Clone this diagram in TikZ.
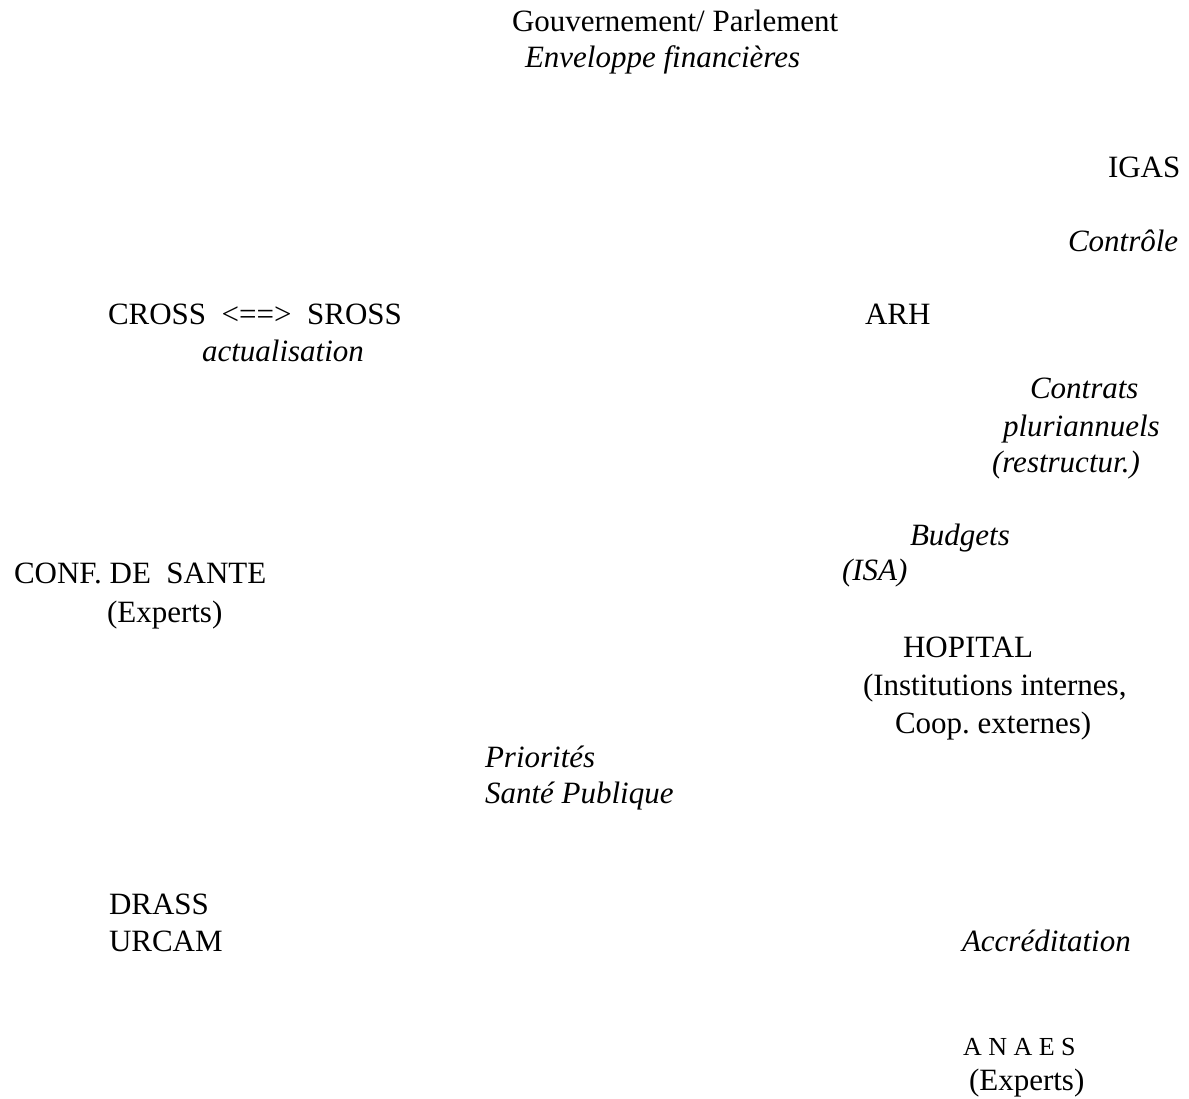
\documentclass[tikz,border=0pt]{standalone}
\usepackage{fontspec}
\setmainfont{Liberation Serif}
\frenchspacing
\begin{document}
\begin{tikzpicture}[x=1pt,y=1pt,
  lbl/.style={anchor=base west,inner sep=0pt,outer sep=0pt,font=\fontsize{31}{37}\selectfont},
  ilbl/.style={lbl,font=\fontsize{31}{37}\selectfont\itshape},
  slbl/.style={lbl,font=\fontsize{26}{31}\selectfont}]
\path[use as bounding box,fill=white] (0,0) rectangle (1189,-1099);
% top
\node[lbl]  (gouv) at (512,-32) {Gouvernement/ Parlement};
\node[ilbl] (env)  at (525,-68) {Enveloppe financières};
% right column
\node[lbl]  (igas) at (1108,-178) {IGAS};
\node[ilbl] (ctrl) at (1068,-252) {Contrôle};
\node[lbl]  (arh)  at (865,-325) {ARH};
\node[ilbl] (contr1) at (1030,-399) {Contrats};
\node[ilbl] (contr2) at (1003,-436) {pluriannuels};
\node[ilbl] (contr3) at (992,-472) {(restructur.)};
\node[ilbl] (budg) at (910,-545) {Budgets};
\node[ilbl] (isa)  at (842,-580) {(ISA)};
\node[lbl]  (hop)  at (903,-657) {HOPITAL};
\node[lbl]  (hop2) at (863,-695) {(Institutions internes,};
\node[lbl]  (hop3) at (895,-733) {Coop. externes)};
\node[ilbl] (accr) at (962,-951) {Accréditation};
\node[slbl] (anaes) at (963,-1055) {A N A E S};
\node[lbl]  (anaes2) at (969,-1090) {(Experts)};
% left column
\node[lbl]  (cross) at (108,-325) {CROSS \ <==> \ SROSS};
\node[ilbl] (actu) at (202,-362) {actualisation};
\node[lbl]  (conf) at (14,-583) {CONF. DE \ SANTE};
\node[lbl]  (conf2) at (107,-622) {(Experts)};
\node[lbl]  (drass) at (109,-914) {DRASS};
\node[lbl]  (urcam) at (109,-951) {URCAM};
% middle
\node[ilbl] (prio) at (485,-767) {Priorités};
\node[ilbl] (sante) at (485,-803) {Santé Publique};
\end{tikzpicture}
\end{document}
